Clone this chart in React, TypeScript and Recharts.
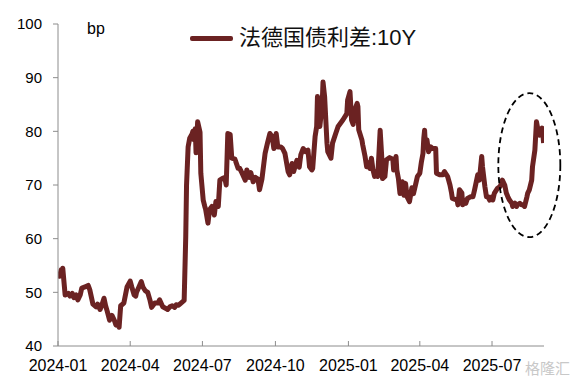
import React from 'react';
import { LineChart, Line, XAxis, YAxis, Legend, ReferenceDot } from 'recharts';

const seriesName = '法德国债利差:10Y';
const unitLabel = 'bp';
const watermark = '格隆汇';

const dates: string[] = [
  '2024-01-01','2024-01-03','2024-01-05','2024-01-06','2024-01-07','2024-01-10','2024-01-14','2024-01-16','2024-01-19','2024-01-21',
  '2024-01-24','2024-01-26','2024-01-29','2024-01-31','2024-02-04','2024-02-08','2024-02-10','2024-02-14','2024-02-18','2024-02-20',
  '2024-02-23','2024-02-25','2024-02-28','2024-03-01','2024-03-03','2024-03-06','2024-03-09','2024-03-12','2024-03-14','2024-03-17',
  '2024-03-18','2024-03-20','2024-03-24','2024-03-28','2024-04-01','2024-04-03','2024-04-06','2024-04-08','2024-04-09','2024-04-12',
  '2024-04-15','2024-04-17','2024-04-20','2024-04-23','2024-04-26','2024-04-28','2024-05-02','2024-05-06','2024-05-08','2024-05-12',
  '2024-05-16','2024-05-18','2024-05-21','2024-05-24','2024-05-27','2024-05-29','2024-06-01','2024-06-04','2024-06-08','2024-06-10',
  '2024-06-11','2024-06-13','2024-06-15','2024-06-18','2024-06-19','2024-06-20','2024-06-22','2024-06-23','2024-06-25','2024-06-28',
  '2024-06-29','2024-07-02','2024-07-04','2024-07-05','2024-07-08','2024-07-10','2024-07-13','2024-07-16','2024-07-18','2024-07-21',
  '2024-07-23','2024-07-26','2024-07-29','2024-07-31','2024-08-02','2024-08-05','2024-08-07','2024-08-11','2024-08-15','2024-08-17',
  '2024-08-20','2024-08-24','2024-08-26','2024-08-29','2024-08-31','2024-09-03','2024-09-06','2024-09-09','2024-09-11','2024-09-14',
  '2024-09-18','2024-09-21','2024-09-24','2024-09-27','2024-09-29','2024-10-02','2024-10-04','2024-10-08','2024-10-10','2024-10-13',
  '2024-10-17','2024-10-19','2024-10-22','2024-10-24','2024-10-28','2024-10-31','2024-11-02','2024-11-05','2024-11-08','2024-11-11',
  '2024-11-13','2024-11-16','2024-11-17','2024-11-20','2024-11-22','2024-11-23','2024-11-26','2024-11-29','2024-11-30','2024-12-02',
  '2024-12-05','2024-12-06','2024-12-10','2024-12-12','2024-12-16','2024-12-19','2024-12-22','2024-12-25','2024-12-30','2024-12-31',
  '2025-01-03','2025-01-05','2025-01-07','2025-01-09','2025-01-12','2025-01-13','2025-01-14','2025-01-18','2025-01-19','2025-01-22',
  '2025-01-24','2025-01-25','2025-01-28','2025-01-30','2025-02-01','2025-02-03','2025-02-06','2025-02-07','2025-02-10','2025-02-12',
  '2025-02-13','2025-02-16','2025-02-18','2025-02-22','2025-02-26','2025-02-27','2025-03-02','2025-03-03','2025-03-05','2025-03-07',
  '2025-03-10','2025-03-12','2025-03-14','2025-03-16','2025-03-19','2025-03-22','2025-03-24','2025-03-27','2025-03-29','2025-04-01',
  '2025-04-03','2025-04-05','2025-04-06','2025-04-07','2025-04-08','2025-04-10','2025-04-12','2025-04-15','2025-04-17','2025-04-21',
  '2025-04-22','2025-04-26','2025-04-30','2025-05-02','2025-05-05','2025-05-06','2025-05-09','2025-05-11','2025-05-12','2025-05-18',
  '2025-05-19','2025-05-21','2025-05-24','2025-05-25','2025-05-26','2025-05-29','2025-05-31','2025-06-04','2025-06-07','2025-06-09',
  '2025-06-12','2025-06-13','2025-06-15','2025-06-18','2025-06-19','2025-06-22','2025-06-24','2025-06-26','2025-06-28','2025-07-01',
  '2025-07-02','2025-07-04','2025-07-08','2025-07-11','2025-07-13','2025-07-14','2025-07-17','2025-07-19','2025-07-21','2025-07-23',
  '2025-07-26','2025-07-27','2025-07-30','2025-08-01','2025-08-02','2025-08-05','2025-08-07','2025-08-09','2025-08-11','2025-08-14',
  '2025-08-15','2025-08-17','2025-08-20','2025-08-21','2025-08-24','2025-08-26','2025-08-28','2025-08-30','2025-09-02','2025-09-03',
  '2025-09-04',
];

const spread: number[] = [
  53.6,53.0,54.2,53.5,54.5,49.5,49.8,49.3,49.8,49.0,
  49.5,48.6,49.5,50.8,51.0,51.3,50.5,47.8,47.3,47.8,
  46.8,47.5,48.9,47.5,46.5,44.8,45.7,44.8,43.9,43.8,
  43.5,47.5,48.0,51.0,52.1,51.0,49.5,49.3,50.0,51.0,
  52.0,51.0,50.3,50.0,48.5,47.2,48.0,48.0,48.6,47.3,
  47.0,46.8,47.3,47.5,47.2,47.7,47.6,48.0,48.5,60.4,
  70.0,77.1,78.7,79.5,80.0,78.5,80.5,76.0,81.8,79.8,
  72.2,67.2,66.0,65.5,62.9,65.4,66.0,64.4,66.9,66.0,
  70.9,71.2,71.4,70.0,79.6,79.4,75.0,74.8,73.1,73.1,
  72.2,70.9,72.8,71.4,72.3,70.6,71.4,71.1,69.1,71.1,
  75.9,77.8,79.6,79.0,76.8,79.6,77.1,77.1,76.8,75.9,
  72.5,71.9,74.0,72.5,74.6,73.3,75.6,76.8,76.2,76.5,
  73.4,72.8,73.1,79.0,80.9,86.5,80.9,85.2,89.2,86.5,
  77.8,76.2,75.0,77.8,79.6,80.9,81.5,82.1,83.3,85.8,
  87.4,82.1,81.3,84.0,85.2,84.6,80.3,78.4,77.5,75.3,
  73.4,74.2,73.1,75.0,72.8,71.6,71.9,71.6,80.2,75.3,
  71.2,71.6,74.7,75.1,74.8,72.8,75.3,72.8,71.2,68.4,
  70.6,68.1,70.3,67.8,66.9,69.5,68.4,70.3,71.6,72.2,
  74.3,75.9,78.7,80.2,77.5,78.4,76.2,77.1,76.8,76.8,
  72.2,71.9,71.9,72.5,71.8,71.6,70.0,68.5,67.5,67.2,
  66.3,69.1,68.5,66.3,67.2,66.6,67.5,67.8,67.8,69.1,
  71.2,71.9,70.9,75.3,73.4,69.7,67.8,67.8,67.2,67.8,
  67.2,68.5,69.4,69.7,70.3,70.9,70.0,68.5,67.8,67.2,
  66.6,66.0,66.6,66.0,66.3,66.6,66.3,66.3,66.0,67.8,
  68.5,69.1,70.9,73.4,76.5,81.8,80.2,79.3,80.6,79.6,
  77.8,
];

const tickDates: string[] = ['2024-01-01', '2024-04-01', '2024-07-01', '2024-10-01', '2025-01-01', '2025-04-01', '2025-07-01'];
const tickLabels: string[] = ['2024-01', '2024-04', '2024-07', '2024-10', '2025-01', '2025-04', '2025-07'];
const yTicks: number[] = [40, 50, 60, 70, 80, 90, 100];
const lastDate = '2025-09-04';
const highlightDate = '2025-08-17';
const highlightValue = 73.7;

const ORIGIN = Date.UTC(2024, 0, 1);
const toDay = (s: string) => {
  const [y, m, d] = s.split('-').map(Number);
  return Math.round((Date.UTC(y, m - 1, d) - ORIGIN) / 86400000);
};

const data = dates.map((d, i) => ({ t: toDay(d), v: spread[i] }));
const xTicks = tickDates.map(toDay);
const tickLabelMap: Record<number, string> = {};
xTicks.forEach((t, i) => { tickLabelMap[t] = tickLabels[i]; });

const LINE_COLOR = '#6b2222';
const AXIS_COLOR = '#8c8c8c';
const FONT = '"Liberation Sans", Arial, "Noto Sans CJK SC", sans-serif';

const LegendContent = () => (
  <div style={{ display: 'flex', alignItems: 'center', fontFamily: FONT }}>
    <div style={{ width: 43, height: 5, background: LINE_COLOR, borderRadius: 2 }} />
    <span style={{ fontSize: 22, color: '#111', marginLeft: 6, lineHeight: '26px', fontFamily: FONT }}>{seriesName}</span>
  </div>
);

const Ellipse = (props: any) => {
  const { cx, cy } = props;
  if (cx == null || cy == null) return null;
  return <ellipse cx={cx} cy={cy} rx={31} ry={72} fill="none" stroke="#000" strokeWidth={1.8} strokeDasharray="6 4" />;
};

export default function App() {
  return (
    <div style={{ position: 'absolute', left: 0, top: 0, width: 582, height: 385, background: '#fff' }}>
      <LineChart width={582} height={385} data={data} margin={{ top: 24, right: 38, left: 0, bottom: 0 }}>
        <XAxis
          dataKey="t"
          type="number"
          domain={[0, toDay(lastDate) + 0.5]}
          ticks={xTicks}
          tickFormatter={(t: number) => tickLabelMap[t] ?? ''}
          height={39}
          stroke={AXIS_COLOR}
          tickSize={-5}
          tickMargin={19}
          tick={{ fill: '#000', fontSize: 16, fontFamily: FONT }}
          interval={0}
          allowDataOverflow
          label={(p: any) => {
            const vb = p.viewBox || {};
            return (
              <text x={(vb.x || 0) + (vb.width || 0) - 19} y={(vb.y || 0) + 28} fill="#c8c8c8" fontSize={15} fontFamily={FONT}>
                {watermark}
              </text>
            );
          }}
        />
        <YAxis
          type="number"
          domain={[40, 100]}
          ticks={yTicks}
          width={58}
          stroke={AXIS_COLOR}
          tickSize={5}
          tickMargin={11}
          tick={{ fill: '#000', fontSize: 15, fontFamily: FONT }}
          interval={0}
          label={(p: any) => {
            const vb = p.viewBox || {};
            return (
              <text x={(vb.x || 0) + (vb.width || 0) + 29} y={(vb.y || 0) + 10} fill="#000" fontSize={16} fontFamily={FONT}>
                {unitLabel}
              </text>
            );
          }}
        />
        <Legend
          layout="horizontal"
          verticalAlign="middle"
          align="center"
          content={LegendContent}
          wrapperStyle={{ top: 25, left: 190, width: 'auto', height: 26 }}
        />
        <Line
          type="linear"
          dataKey="v"
          name={seriesName}
          stroke={LINE_COLOR}
          strokeWidth={5}
          strokeLinejoin="round"
          dot={false}
          activeDot={false}
          isAnimationActive={false}
        />
        <ReferenceDot x={toDay(highlightDate)} y={highlightValue} r={1} ifOverflow="visible" shape={Ellipse} />
      </LineChart>
    </div>
  );
}
